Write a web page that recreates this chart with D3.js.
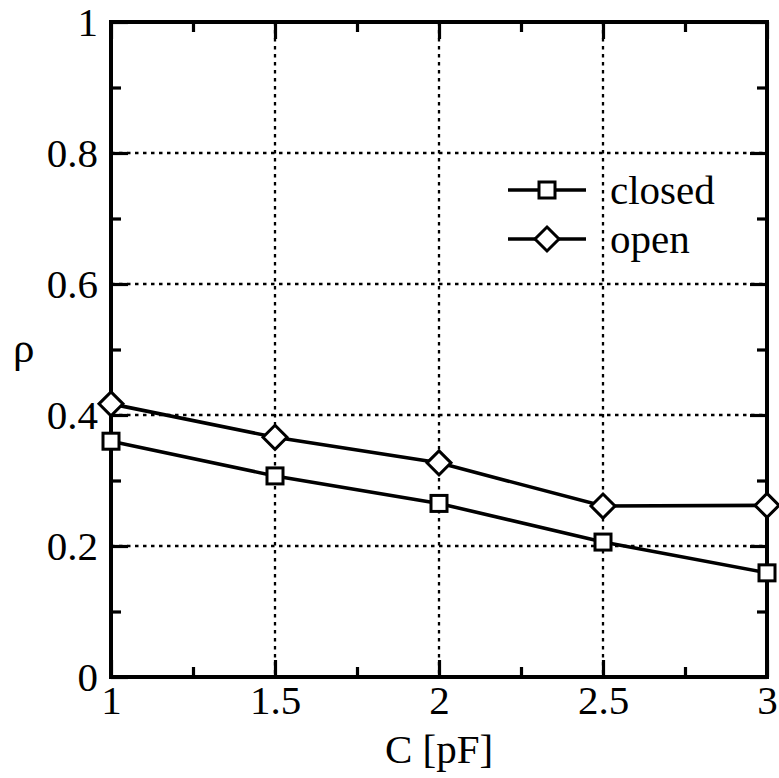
<!DOCTYPE html>
<html>
<head>
<meta charset="utf-8">
<script src="https://cdn.jsdelivr.net/npm/d3@7"></script>
<style>
  body { margin: 0; background: #fff; }
  svg { display: block; font-family: "Liberation Serif", "Times New Roman", serif; }
</style>
</head>
<body>
<div id="chart"></div>
<script>
// data
var capacitance = [1, 1.5, 2, 2.5, 3];
var rho_closed = [0.360, 0.307, 0.265, 0.206, 0.159];
var rho_open = [0.417, 0.366, 0.327, 0.261, 0.262];
var x_ticks = [1, 1.5, 2, 2.5, 3];
var x_minor = [1.25, 1.75, 2.25, 2.75];
var y_ticks = [0, 0.2, 0.4, 0.6, 0.8, 1];
var y_minor = [0.1, 0.3, 0.5, 0.7, 0.9];
var series_names = ["closed", "open"];

var width = 779, height = 778;
var margin = { top: 22, right: 12, bottom: 101, left: 111 };
var plot_w = width - margin.left - margin.right;
var plot_h = height - margin.top - margin.bottom;

var x = d3.scaleLinear().domain([1, 3]).range([0, plot_w]);
var y = d3.scaleLinear().domain([0, 1]).range([plot_h, 0]);

var svg = d3.select("#chart").append("svg")
    .attr("width", width)
    .attr("height", height);

var g = svg.append("g")
    .attr("transform", "translate(" + margin.left + "," + margin.top + ")");

// dotted grid
var grid_style = function(sel) {
  sel.attr("stroke", "#000")
     .attr("stroke-width", 2.3)
     .attr("stroke-dasharray", "3.5,4.5");
};
g.selectAll(".vgrid").data(x_ticks.slice(1, -1)).enter().append("line")
    .attr("x1", function(d) { return x(d); })
    .attr("x2", function(d) { return x(d); })
    .attr("y1", 0).attr("y2", plot_h)
    .call(grid_style);
g.selectAll(".hgrid").data(y_ticks.slice(1, -1)).enter().append("line")
    .attr("y1", function(d) { return y(d); })
    .attr("y2", function(d) { return y(d); })
    .attr("x1", 0).attr("x2", plot_w)
    .call(grid_style);

// inward ticks on all four sides
var tick_axis = function(axis_fn, scale, values, size, tx, ty) {
  var a = g.append("g")
      .attr("transform", "translate(" + tx + "," + ty + ")")
      .call(axis_fn(scale).tickValues(values).tickSize(-size).tickFormat(""));
  a.select(".domain").remove();
  a.selectAll("line").attr("stroke", "#000").attr("stroke-width", 3.2);
};
tick_axis(d3.axisBottom, x, x_ticks, 17, 0, plot_h);
tick_axis(d3.axisBottom, x, x_minor, 10, 0, plot_h);
tick_axis(d3.axisTop, x, x_ticks, 17, 0, 0);
tick_axis(d3.axisTop, x, x_minor, 10, 0, 0);
tick_axis(d3.axisLeft, y, y_ticks, 17, 0, 0);
tick_axis(d3.axisLeft, y, y_minor, 10, 0, 0);
tick_axis(d3.axisRight, y, y_ticks, 17, plot_w, 0);
tick_axis(d3.axisRight, y, y_minor, 10, plot_w, 0);

// frame
g.append("rect")
    .attr("x", 0).attr("y", 0)
    .attr("width", plot_w).attr("height", plot_h)
    .attr("fill", "none")
    .attr("stroke", "#000")
    .attr("stroke-width", 4);

// tick labels
var xl = g.append("g")
    .attr("transform", "translate(0," + plot_h + ")")
    .call(d3.axisBottom(x).tickValues(x_ticks).tickSize(0).tickPadding(8).tickFormat(d3.format("")));
xl.select(".domain").remove();
xl.selectAll("text").attr("font-size", 41).attr("fill", "#000")
    .attr("font-family", "'Liberation Serif', serif");

var yl = g.append("g")
    .call(d3.axisLeft(y).tickValues(y_ticks).tickSize(0).tickPadding(13).tickFormat(d3.format("")));
yl.select(".domain").remove();
yl.selectAll("text").attr("font-size", 41).attr("fill", "#000")
    .attr("font-family", "'Liberation Serif', serif");

// axis titles
svg.append("text")
    .attr("x", margin.left + x(2))
    .attr("y", 763)
    .attr("text-anchor", "middle")
    .attr("font-size", 41)
    .text("C [pF]");
svg.append("text")
    .attr("x", 13)
    .attr("y", 362)
    .attr("font-size", 43)
    .text("ρ");

// lines and markers
var line = d3.line()
    .x(function(d) { return x(d[0]); })
    .y(function(d) { return y(d[1]); });

var series = [d3.zip(capacitance, rho_closed), d3.zip(capacitance, rho_open)];

var draw_marker = function(sel, i) {
  if (i === 0) {
    sel.append("rect")
        .attr("x", -8).attr("y", -8)
        .attr("width", 16).attr("height", 16);
  } else {
    sel.append("path").attr("d", "M0,-12L12,0L0,12L-12,0Z");
  }
  sel.selectAll("rect,path")
      .attr("fill", "#fff")
      .attr("stroke", "#000")
      .attr("stroke-width", 3);
};

series.forEach(function(s, i) {
  g.append("path")
      .datum(s)
      .attr("d", line)
      .attr("fill", "none")
      .attr("stroke", "#000")
      .attr("stroke-width", 3.6);
  g.selectAll(".m" + i).data(s).enter().append("g")
      .attr("transform", function(d) { return "translate(" + x(d[0]) + "," + y(d[1]) + ")"; })
      .each(function() { draw_marker(d3.select(this), i); });
});

// legend
var legend_y = [190, 239];
series_names.forEach(function(name, i) {
  var lg = svg.append("g").attr("transform", "translate(508," + legend_y[i] + ")");
  lg.append("line")
      .attr("x1", 0).attr("x2", 78)
      .attr("stroke", "#000").attr("stroke-width", 3.6);
  var m = lg.append("g").attr("transform", "translate(39,0)");
  draw_marker(m, i);
  lg.append("text")
      .attr("x", 102)
      .attr("y", 14)
      .attr("font-size", 41)
      .text(name);
});
</script>
</body>
</html>
